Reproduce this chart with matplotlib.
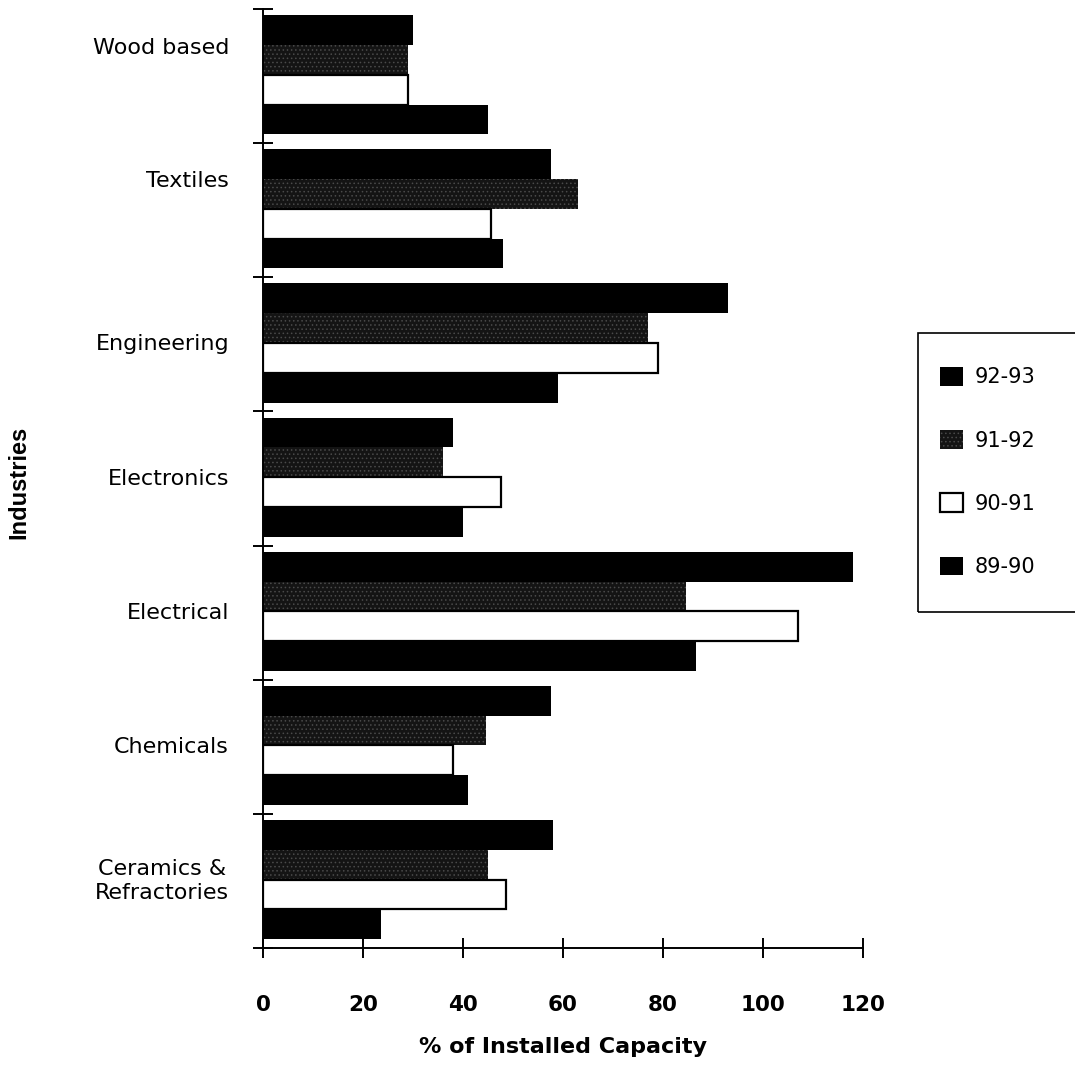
"""Capacity utilisation by industry, 1989-90 to 1992-93."""

import matplotlib.pyplot as plt
import numpy as np
from matplotlib.patches import Rectangle
from matplotlib.transforms import blended_transform_factory

industries = [
    "Wood based",
    "Textiles",
    "Engineering",
    "Electronics",
    "Electrical",
    "Chemicals",
    "Ceramics &\nRefractories",
]
seasons = ["92-93", "91-92", "90-91", "89-90"]

util_9293 = [30, 57.5, 93, 38, 118, 57.5, 58]
util_9192 = [29, 63, 77, 36, 84.5, 44.5, 45]
util_9091 = [29, 45.5, 79, 47.5, 107, 38, 48.5]
util_8990 = [45, 48, 59, 40, 86.5, 41, 23.5]

x_ticks = [0, 20, 40, 60, 80, 100, 120]

plt.rcParams["font.family"] = ["DejaVu Sans"]
plt.rcParams["hatch.linewidth"] = 0.6

fig = plt.figure(figsize=(10.75, 10.65), dpi=100)
ax = fig.add_axes([263 / 1075, 1 - 948 / 1065, 600 / 1075, 939 / 1065])

pos = np.arange(len(industries))
h = 0.222
styles = [
    dict(color="black", linewidth=0),
    dict(facecolor="#141414", edgecolor="#4a4a4a", hatch="....", linewidth=0),
    dict(facecolor="white", edgecolor="black", linewidth=1.6),
    dict(color="black", linewidth=0),
]
series = [util_9293, util_9192, util_9091, util_8990]
handles = []
for i, (vals, st) in enumerate(zip(series, styles)):
    bars = ax.barh(pos + (i - 1.5) * h - 0.01, vals, height=h, label=seasons[i], **st)
    handles.append(bars)

ax.set_xlim(0, 120)
ax.set_ylim(len(industries) - 0.5, -0.5)

for side in ("top", "right"):
    ax.spines[side].set_visible(False)
for side in ("left", "bottom"):
    ax.spines[side].set_linewidth(1.4)

ax.set_xticks(x_ticks)
ax.set_xticklabels([str(t) for t in x_ticks], fontsize=15.5, fontweight="bold")
ax.tick_params(axis="x", direction="inout", length=15, width=1.4, pad=26)
ax.set_yticks(np.arange(len(industries) + 1) - 0.5)
ax.set_yticklabels([])
ax.tick_params(axis="y", direction="inout", length=14, width=1.4)

# category names sit to the left of the axis; the top two are raised a bit
nudge = [0.21, 0.22, 0, 0, 0, 0, 0]
trans = blended_transform_factory(fig.transFigure, ax.transData)
for y, name, dy in zip(pos, industries, nudge):
    ax.text(229 / 1075, y - dy, name, transform=trans, ha="right", va="center",
            multialignment="center", fontsize=16, linespacing=1.25)

ax.set_xlabel("% of Installed Capacity", fontsize=16, fontweight="bold", labelpad=16)
fig.text(19 / 1075, 1 - 482 / 1065, "Industries", rotation=90, ha="center",
         va="center", fontsize=17, fontweight="bold",
         family=["Liberation Sans", "DejaVu Sans"])

leg = fig.legend(handles=handles, labels=seasons, loc="upper left",
                 bbox_to_anchor=(940 / 1075, 1 - 367 / 1065), frameon=False,
                 fontsize=15, handlelength=1.1, handleheight=1.0,
                 handletextpad=0.55, labelspacing=2.05, borderaxespad=0,
                 borderpad=0)
fig.add_artist(Rectangle((918 / 1075, 1 - 612 / 1065), 0.2, 279 / 1065,
                         transform=fig.transFigure, facecolor="none",
                         edgecolor="black", linewidth=1.2, clip_on=False))

fig.savefig("out.png", dpi=100)
plt.close(fig)
